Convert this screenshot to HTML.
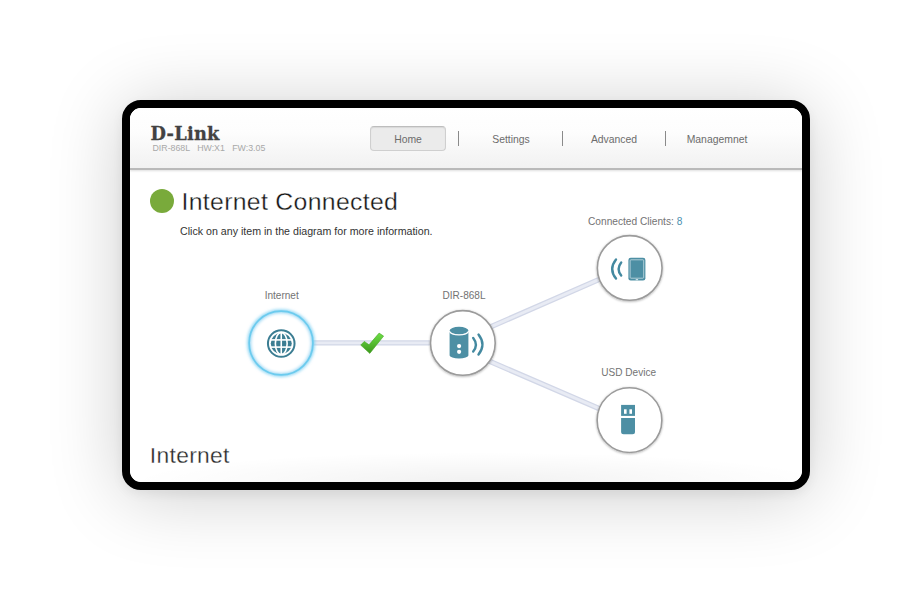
<!DOCTYPE html>
<html>
<head>
<meta charset="utf-8">
<title>D-Link DIR-868L</title>
<style>
html,body{margin:0;padding:0;}
body{width:914px;height:600px;background:#fff;position:relative;overflow:hidden;font-family:"Liberation Sans",sans-serif;}
#frame{position:absolute;left:122px;top:100px;width:672px;height:374px;border:8px solid #000;border-radius:19px;background:#fff;box-shadow:0 6px 75px rgba(0,0,0,0.20),0 4px 12px rgba(0,0,0,0.06);overflow:hidden;}
#inner{position:absolute;left:0;top:0;width:672px;height:374px;border-radius:11px;overflow:hidden;background:#fff;}
#header{position:absolute;left:0;top:0;width:672px;height:60px;background:linear-gradient(#ffffff 0%,#fdfdfd 40%,#f1f1f1 100%);border-bottom:2px solid #b9b9b9;box-shadow:0 1px 2px rgba(0,0,0,0.13);}
#logo{position:absolute;left:20.5px;top:13.7px;font-family:"DejaVu Serif","Liberation Serif",serif;font-weight:bold;font-size:17.8px;color:#424242;-webkit-text-stroke:0.3px #424242;line-height:24px;letter-spacing:0.25px;white-space:nowrap;}
#model{position:absolute;left:22.5px;top:33.5px;font-size:8.8px;line-height:12px;color:#a8a8a8;white-space:pre;}
.nav{position:absolute;top:20px;height:23px;line-height:23px;font-size:10.4px;color:#6c6c6c;text-align:center;width:76px;}
#home{left:240px;top:18px;width:74px;border:1px solid #cfcfcf;border-top-color:#bdbdbd;border-radius:4px;background:#ebebeb;height:23px;line-height:25px;box-shadow:inset 0 1px 1px rgba(0,0,0,0.08);}
.sep{position:absolute;top:23px;width:1px;height:15px;background:#8a8a8a;}
#dot{position:absolute;left:20px;top:81px;width:24px;height:24px;border-radius:50%;background:#79aa3b;}
#title{position:absolute;left:51.5px;top:76.7px;font-size:24.8px;line-height:34px;color:#161616;white-space:nowrap;letter-spacing:0.32px;-webkit-text-stroke:0.32px #fff;}
#sub{position:absolute;left:50px;top:115.5px;font-size:10.65px;line-height:14px;color:#333;white-space:nowrap;}
.lbl{position:absolute;font-size:10.05px;line-height:14px;color:#737373;white-space:nowrap;text-align:center;width:160px;}
#bottom{position:absolute;left:19.8px;top:331.5px;font-size:22.8px;line-height:30px;color:#262626;white-space:nowrap;letter-spacing:0.33px;-webkit-text-stroke:0.3px #fff;}
#fade{position:absolute;left:0;bottom:0;width:672px;height:30px;background:radial-gradient(ellipse 52% 100% at 52% 100%,rgba(0,0,0,0.055),rgba(0,0,0,0.022) 55%,rgba(0,0,0,0) 100%);}
svg{position:absolute;left:0;top:0;}
</style>
</head>
<body>
<div id="frame"><div id="inner">
  <div id="header">
    <div id="logo">D-Link</div>
    <div id="model">DIR-868L   HW:X1   FW:3.05</div>
    <div class="nav" id="home">Home</div>
    <div class="sep" style="left:328px"></div>
    <div class="nav" style="left:343px">Settings</div>
    <div class="sep" style="left:432px"></div>
    <div class="nav" style="left:446px">Advanced</div>
    <div class="sep" style="left:535px"></div>
    <div class="nav" style="left:549px">Managemnet</div>
  </div>
  <div id="dot"></div>
  <div id="title">Internet Connected</div>
  <div id="sub">Click on any item in the diagram for more information.</div>

  <svg width="672" height="374" viewBox="130 108 672 374">
    <defs>
      <linearGradient id="ck" x1="0" y1="0" x2="0" y2="1">
        <stop offset="0" stop-color="#6ee046"/>
        <stop offset="1" stop-color="#3c971c"/>
      </linearGradient>
    </defs>
    <g stroke="#d2d7e7" stroke-width="5.4" stroke-linecap="butt">
      <line x1="312" y1="342.9" x2="432" y2="342.9"/>
      <line x1="446.4" y1="346.2" x2="629.6" y2="266.1"/>
      <line x1="446.4" y1="342.6" x2="629.5" y2="421.7"/>
    </g>
    <g stroke="#e8ebf4" stroke-width="2.9">
      <line x1="312" y1="342.9" x2="432" y2="342.9"/>
      <line x1="446.4" y1="346.2" x2="629.6" y2="266.1"/>
      <line x1="446.4" y1="342.6" x2="629.5" y2="421.7"/>
    </g>
    <path d="M360.7 345.1 L364.3 341.4 L369 344.8 L379.1 333.1 L383.6 336.1 L369.8 353.4 Z" fill="url(#ck)" stroke="#46a526" stroke-width="0.6" stroke-linejoin="round"/>
  </svg>

  <div class="lbl" style="left:71.7px;top:181px">Internet</div>
  <div class="lbl" style="left:254px;top:181px">DIR-868L</div>
  <div class="lbl" style="left:425.2px;top:106.7px;font-size:10.17px">Connected Clients: <span style="color:#4a8fb0">8</span></div>
  <div class="lbl" style="left:418.7px;top:258.4px">USD Device</div>


  <svg width="672" height="374" viewBox="130 108 672 374">
    <defs>
      <filter id="sh" x="-20%" y="-20%" width="140%" height="140%"><feDropShadow dx="0" dy="0.7" stdDeviation="1.1" flood-color="#000" flood-opacity="0.32"/></filter>
      <filter id="gl" x="-20%" y="-20%" width="140%" height="140%"><feGaussianBlur stdDeviation="1.7"/></filter>
    </defs>
    <circle cx="281.05" cy="343.05" r="31.9" fill="#fff" stroke="#69caf0" stroke-width="4" stroke-opacity="0.75" filter="url(#gl)"/>
    <circle cx="281.05" cy="343.05" r="31.9" fill="none" stroke="#6ccbee" stroke-width="1.7"/>
    <g fill="#fff" stroke="#9b9b9b" stroke-width="1.6" filter="url(#sh)">
      <circle cx="462.85" cy="342.95" r="32.35"/>
      <circle cx="629.7" cy="267.95" r="32.35"/>
      <circle cx="629.5" cy="420.15" r="32.35"/>
    </g>
    <!-- globe -->
    <g transform="translate(281.25 343.5)">
      <circle r="13.3" fill="none" stroke="#3b7d92" stroke-width="2"/>
      <circle r="10.5" fill="#3b7d92"/>
      <g stroke="#fff" stroke-width="1.6" fill="none">
        <line x1="0" y1="-11" x2="0" y2="11"/>
        <ellipse rx="5.9" ry="11"/>
        <line x1="-11" y1="-3.6" x2="11" y2="-3.6"/>
        <line x1="-11" y1="3.6" x2="11" y2="3.6"/>
      </g>
    </g>
    <!-- router -->
    <g fill="#4d8fa4">
      <path d="M449.6 331.5 L449.6 355.5 A9.4 2.9 0 0 0 468.4 355.5 L468.4 331.5 A9.4 3.6 0 0 1 449.6 331.5 Z"/>
      <ellipse cx="459" cy="330.6" rx="9.4" ry="3.8"/>
    </g>
    <path d="M449.6 331.3 A9.4 3.7 0 0 0 468.4 331.3" fill="none" stroke="#fff" stroke-width="1.1"/>
    <circle cx="459.1" cy="346.1" r="2.1" fill="#fff"/>
    <circle cx="459.1" cy="351.8" r="2.1" fill="#fff"/>
    <g fill="none" stroke="#4389a0" stroke-width="2.4" stroke-linecap="round">
      <path d="M473.2 338 Q478.6 344.8 473.2 351.6"/>
      <path d="M478.5 334.6 Q486.4 344.6 478.5 354.6"/>
    </g>
    <!-- tablet -->
    <rect x="628.4" y="257.8" width="17" height="22.8" rx="2.3" fill="#4d8fa4"/>
    <rect x="630.1" y="259.8" width="13.6" height="18.4" rx="0.8" fill="none" stroke="#d9e8ee" stroke-width="0.7"/>
    <rect x="635.7" y="279.2" width="2.4" height="1" fill="#e6f0f4"/>
    <g fill="none" stroke="#4389a0" stroke-width="2.4" stroke-linecap="round">
      <path d="M621.2 262.4 Q616 269 621.2 275.6"/>
      <path d="M616 259.4 Q608.4 269 616 278.6"/>
    </g>
    <!-- usb -->
    <g fill="#4d8fa4">
      <rect x="621.1" y="404.9" width="13.9" height="11"/>
      <path d="M621.1 418 H635 V431.8 Q635 434.3 632.5 434.3 H623.6 Q621.1 434.3 621.1 431.8 Z"/>
    </g>
    <rect x="624" y="409.3" width="2.6" height="4.5" fill="#fff"/>
    <rect x="629.4" y="409.3" width="2.6" height="4.5" fill="#fff"/>
  </svg>

  <div id="fade"></div>
  <div id="bottom">Internet</div>
</div></div>
</body>
</html>
